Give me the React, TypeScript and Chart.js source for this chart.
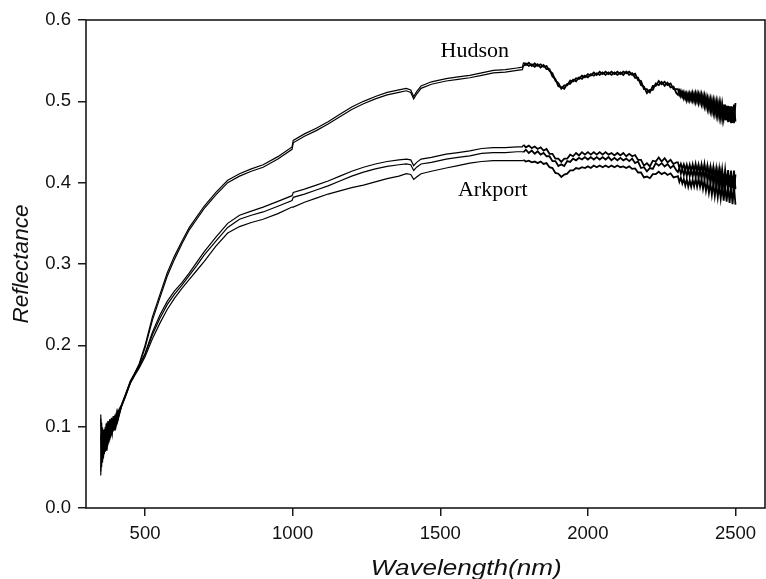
import React, { useEffect, useRef } from 'react';
import { Chart, registerables } from 'chart.js';

Chart.register(...registerables);

const wavelengths = [
  350, 353, 356, 359, 362, 365, 368, 371, 374, 377, 380, 383, 386, 389, 392, 395, 398, 401, 404, 407, 410,
  420, 435, 450, 465, 480, 500, 525, 550, 575, 600, 625, 650, 675, 700, 740, 780, 820, 860, 900, 950, 998, 1002,
  1040, 1080, 1120, 1160, 1200, 1240, 1280, 1320, 1360, 1385, 1400, 1410, 1420, 1435, 1470, 1520, 1560, 1600,
  1640, 1680, 1720, 1760, 1778,
  1782, 1790, 1800, 1810, 1820, 1830, 1840, 1850, 1860, 1870, 1880, 1890, 1900, 1910, 1920, 1930, 1940, 1950,
  1960, 1970, 1980, 1990, 2000, 2010, 2020, 2030, 2040, 2050, 2060, 2070, 2080, 2090, 2100, 2110, 2120, 2130,
  2140, 2150, 2160, 2170, 2180, 2190, 2200, 2210, 2220, 2230, 2240, 2250, 2260, 2270, 2280, 2290, 2300,
  2305, 2310, 2315, 2320, 2325, 2330, 2335, 2340, 2345, 2350, 2355, 2360, 2365, 2370, 2375, 2380, 2385, 2390,
  2395, 2400, 2405, 2410, 2415, 2420, 2425, 2430, 2435, 2440, 2445, 2450, 2455, 2460, 2465, 2470, 2475, 2480,
  2485, 2490, 2495, 2500,
];

const hudson1 = [
  0.115, 0.06, 0.099, 0.07, 0.097, 0.075, 0.104, 0.08, 0.107, 0.085, 0.109, 0.09, 0.111, 0.095, 0.113, 0.1, 0.115, 0.104, 0.117, 0.11, 0.12,
  0.127, 0.141, 0.156, 0.166, 0.177, 0.2, 0.235, 0.262, 0.289, 0.31, 0.328, 0.345, 0.358, 0.371, 0.388, 0.403, 0.411, 0.417, 0.422, 0.432, 0.444, 0.452,
  0.46, 0.467, 0.475, 0.484, 0.493, 0.5, 0.506, 0.511, 0.514, 0.516, 0.514, 0.506, 0.512, 0.519, 0.524, 0.528, 0.53, 0.532,
  0.535, 0.538, 0.539, 0.541, 0.542,
  0.5475, 0.5445, 0.5475, 0.5435, 0.5465, 0.5435, 0.5455, 0.5425, 0.5435, 0.5375, 0.5345, 0.5255, 0.5225, 0.5155, 0.5195, 0.5195, 0.5255, 0.5245,
  0.5285, 0.5275, 0.5315, 0.5295, 0.5335, 0.5315, 0.5355, 0.5325, 0.5365, 0.5335, 0.5365, 0.5335, 0.5365, 0.5335, 0.5365, 0.5335, 0.5365, 0.5345,
  0.5365, 0.5325, 0.534, 0.526, 0.525, 0.515, 0.515, 0.511, 0.519, 0.519, 0.525, 0.521, 0.524, 0.52, 0.522, 0.515, 0.515,
  0.515, 0.508, 0.513, 0.506, 0.5115, 0.5035, 0.51, 0.502, 0.51, 0.502, 0.5105, 0.5005, 0.51, 0.5, 0.509, 0.499, 0.5085, 0.4965,
  0.507, 0.494, 0.504, 0.4905, 0.5025, 0.488, 0.501, 0.4855, 0.4995, 0.483, 0.498, 0.4805, 0.4965, 0.479, 0.496, 0.4765, 0.4945, 0.475,
  0.494, 0.4735, 0.496, 0.475,
];

const hudson2 = [
  0.045, 0.105, 0.058, 0.096, 0.067, 0.1, 0.073, 0.105, 0.078, 0.107, 0.084, 0.109, 0.09, 0.111, 0.095, 0.113, 0.1, 0.115, 0.106, 0.118, 0.112,
  0.125, 0.14, 0.154, 0.165, 0.176, 0.197, 0.231, 0.258, 0.285, 0.306, 0.325, 0.342, 0.355, 0.368, 0.385, 0.4, 0.408, 0.414, 0.419, 0.429, 0.441, 0.449,
  0.457, 0.464, 0.472, 0.481, 0.49, 0.497, 0.503, 0.508, 0.511, 0.513, 0.511, 0.503, 0.509, 0.516, 0.521, 0.525, 0.527, 0.529,
  0.532, 0.535, 0.536, 0.538, 0.539,
  0.5435, 0.5465, 0.5435, 0.5455, 0.5425, 0.5455, 0.5415, 0.5445, 0.5395, 0.5395, 0.5305, 0.5275, 0.5185, 0.5175, 0.5155, 0.5215, 0.5215, 0.5265,
  0.5245, 0.5295, 0.5275, 0.5315, 0.5295, 0.5335, 0.5315, 0.5345, 0.5325, 0.5355, 0.5325, 0.5355, 0.5325, 0.5355, 0.5325, 0.5355, 0.5325, 0.5365,
  0.5325, 0.5345, 0.529, 0.529, 0.52, 0.518, 0.51, 0.514, 0.514, 0.522, 0.52, 0.524, 0.519, 0.523, 0.517, 0.518, 0.51,
  0.508, 0.513, 0.506, 0.511, 0.5035, 0.5095, 0.501, 0.509, 0.501, 0.509, 0.5005, 0.5085, 0.499, 0.509, 0.498, 0.508, 0.4965, 0.5065,
  0.494, 0.505, 0.491, 0.5025, 0.4885, 0.501, 0.486, 0.4995, 0.4835, 0.498, 0.481, 0.4965, 0.4785, 0.496, 0.477, 0.4945, 0.4745, 0.494,
  0.473, 0.4935, 0.473, 0.498,
];

const arkport1 = [
  0.09, 0.05, 0.095, 0.062, 0.09, 0.07, 0.098, 0.075, 0.1, 0.081, 0.103, 0.087, 0.106, 0.092, 0.108, 0.097, 0.111, 0.101, 0.113, 0.107, 0.116,
  0.126, 0.14, 0.155, 0.165, 0.175, 0.19, 0.216, 0.237, 0.254, 0.267, 0.277, 0.289, 0.302, 0.315, 0.333, 0.35, 0.36, 0.365, 0.37, 0.377, 0.384, 0.388,
  0.392, 0.397, 0.402, 0.408, 0.414, 0.419, 0.423, 0.426, 0.428, 0.429, 0.428, 0.421, 0.425, 0.429, 0.431, 0.435, 0.437, 0.439,
  0.442, 0.443, 0.443, 0.444, 0.444,
  0.4465, 0.4435, 0.4455, 0.4425, 0.4445, 0.4415, 0.4435, 0.4395, 0.4415, 0.4355, 0.4355, 0.4295, 0.4295, 0.4255, 0.4295, 0.4295, 0.4345, 0.4325,
  0.4365, 0.4335, 0.4375, 0.4345, 0.4375, 0.4345, 0.4375, 0.4345, 0.4375, 0.4345, 0.4375, 0.4345, 0.4365, 0.4335, 0.4365, 0.4335, 0.4365, 0.4325,
  0.4355, 0.4325, 0.434, 0.428, 0.428, 0.421, 0.424, 0.42, 0.427, 0.426, 0.431, 0.426, 0.43, 0.425, 0.428, 0.423, 0.425,
  0.425, 0.418, 0.423, 0.417, 0.4225, 0.4155, 0.422, 0.414, 0.422, 0.414, 0.4225, 0.4135, 0.423, 0.413, 0.422, 0.412, 0.4225, 0.4115,
  0.423, 0.41, 0.421, 0.4075, 0.4195, 0.406, 0.419, 0.4035, 0.4175, 0.402, 0.417, 0.4005, 0.4165, 0.399, 0.416, 0.3975, 0.4155, 0.395,
  0.415, 0.3935, 0.415, 0.392,
];

const arkport2 = [
  0.04, 0.1, 0.056, 0.09, 0.066, 0.095, 0.071, 0.1, 0.077, 0.103, 0.083, 0.106, 0.089, 0.108, 0.094, 0.11, 0.099, 0.112, 0.104, 0.115, 0.11,
  0.125, 0.139, 0.154, 0.164, 0.174, 0.189, 0.213, 0.233, 0.25, 0.263, 0.274, 0.286, 0.298, 0.311, 0.328, 0.345, 0.355, 0.36, 0.364, 0.371, 0.378, 0.382,
  0.386, 0.391, 0.396, 0.402, 0.408, 0.413, 0.417, 0.42, 0.422, 0.423, 0.422, 0.415, 0.419, 0.423, 0.425, 0.429, 0.431, 0.433,
  0.436, 0.437, 0.437, 0.438, 0.438,
  0.4375, 0.4405, 0.4365, 0.4395, 0.4355, 0.4385, 0.4345, 0.4365, 0.4325, 0.4325, 0.4265, 0.4265, 0.4205, 0.4225, 0.4205, 0.4265, 0.4255, 0.4295,
  0.4275, 0.4305, 0.4285, 0.4315, 0.4285, 0.4315, 0.4285, 0.4315, 0.4285, 0.4315, 0.4285, 0.4315, 0.4275, 0.4305, 0.4275, 0.4305, 0.4275, 0.4295,
  0.4265, 0.4295, 0.424, 0.426, 0.418, 0.419, 0.414, 0.418, 0.417, 0.424, 0.421, 0.424, 0.42, 0.423, 0.418, 0.421, 0.415,
  0.413, 0.418, 0.411, 0.417, 0.4095, 0.4165, 0.408, 0.416, 0.408, 0.416, 0.4075, 0.4165, 0.407, 0.417, 0.406, 0.416, 0.4055, 0.4165,
  0.405, 0.416, 0.403, 0.4145, 0.4005, 0.414, 0.399, 0.4125, 0.3965, 0.412, 0.395, 0.4115, 0.3935, 0.411, 0.392, 0.4105, 0.3905, 0.409,
  0.389, 0.4085, 0.387, 0.41,
];

const arkport3 = [
  0.11, 0.055, 0.085, 0.061, 0.08, 0.069, 0.09, 0.074, 0.095, 0.08, 0.098, 0.086, 0.1, 0.091, 0.104, 0.096, 0.107, 0.1, 0.11, 0.106, 0.113,
  0.124, 0.138, 0.153, 0.163, 0.172, 0.186, 0.208, 0.227, 0.244, 0.258, 0.27, 0.281, 0.292, 0.303, 0.322, 0.338, 0.346, 0.351, 0.355, 0.362, 0.37, 0.37,
  0.376, 0.381, 0.386, 0.39, 0.394, 0.397, 0.401, 0.405, 0.408, 0.411, 0.41, 0.404, 0.407, 0.411, 0.414, 0.418, 0.421, 0.424,
  0.426, 0.427, 0.427, 0.427, 0.427,
  0.428, 0.426, 0.427, 0.425, 0.426, 0.424, 0.426, 0.423, 0.424, 0.419, 0.418, 0.412, 0.411, 0.407, 0.41, 0.411, 0.415, 0.415,
  0.418, 0.417, 0.419, 0.418, 0.42, 0.418, 0.421, 0.419, 0.421, 0.419, 0.421, 0.419, 0.421, 0.419, 0.421, 0.419, 0.42, 0.418,
  0.42, 0.417, 0.4175, 0.4125, 0.4125, 0.4065, 0.4075, 0.4055, 0.4105, 0.4105, 0.4135, 0.4105, 0.4125, 0.4095, 0.4115, 0.4065, 0.4075,
  0.408, 0.401, 0.406, 0.399, 0.4045, 0.3965, 0.404, 0.395, 0.403, 0.395, 0.4035, 0.3955, 0.405, 0.395, 0.405, 0.395, 0.4045, 0.3925,
  0.403, 0.39, 0.401, 0.3875, 0.3995, 0.385, 0.399, 0.3835, 0.3975, 0.382, 0.397, 0.3805, 0.3965, 0.378, 0.396, 0.3765, 0.3955, 0.375,
  0.395, 0.3735, 0.395, 0.373,
];

const seriesNames = ['Hudson 1', 'Hudson 2', 'Arkport 1', 'Arkport 2', 'Arkport 3'];
const xTicks = [500, 1000, 1500, 2000, 2500];
const yTicks = [0, 0.1, 0.2, 0.3, 0.4, 0.5, 0.6];
const xTitle = 'Wavelength(nm)';
const yTitle = 'Reflectance';
const curveLabels = [
  { text: 'Hudson', x: 1617, y: 0.555 },
  { text: 'Arkport', x: 1678, y: 0.383 },
];
const noisyFrom = 1780;

const sansFamily = '"Liberation Sans", Arial, Helvetica, sans-serif';
const serifFamily = '"Liberation Serif", "Times New Roman", serif';

const framePlugin = {
  id: 'frame',
  afterDraw(chart: any) {
    const { ctx, chartArea } = chart;
    ctx.save();
    ctx.strokeStyle = '#1a1a1a';
    ctx.lineWidth = 1.6;
    ctx.strokeRect(chartArea.left, chartArea.top, chartArea.right - chartArea.left, chartArea.bottom - chartArea.top);
    ctx.restore();
  },
};

const textPlugin = {
  id: 'curveLabels',
  afterDatasetsDraw(chart: any) {
    const { ctx, scales, chartArea } = chart;
    ctx.save();
    ctx.fillStyle = '#000';
    ctx.font = `22px ${serifFamily}`;
    ctx.textAlign = 'center';
    ctx.textBaseline = 'alphabetic';
    curveLabels.forEach((l) => {
      ctx.fillText(l.text, scales.x.getPixelForValue(l.x), scales.y.getPixelForValue(l.y));
    });
    // x-axis title (slightly wide, as in the source figure)
    ctx.fillStyle = '#111';
    ctx.font = `italic 22.5px ${sansFamily}`;
    const cx = chartArea.left + (chartArea.right - chartArea.left) * 0.56;
    ctx.translate(cx, chartArea.bottom + 67);
    ctx.scale(1.16, 1);
    ctx.fillText(xTitle, 0, 0);
    ctx.restore();
  },
};

export default function App() {
  const ref = useRef<HTMLCanvasElement>(null);
  useEffect(() => {
    document.body.style.margin = '0';
    const series = [hudson1, hudson2, arkport1, arkport2, arkport3];
    const chart = new Chart(ref.current as HTMLCanvasElement, {
      type: 'line',
      data: {
        datasets: series.map((s, i) => ({
          label: seriesNames[i],
          data: wavelengths.map((w, j) => ({ x: w, y: s[j] })),
          borderColor: '#000',
          borderWidth: 1.2,
          pointRadius: 0,
          fill: false,
          tension: 0,
          segment: {
            borderWidth: (c: any) => (c.p0.parsed.x >= noisyFrom ? 1.8 : undefined),
          },
        })),
      },
      options: {
        animation: false,
        responsive: false,
        devicePixelRatio: 1,
        layout: { padding: { top: 20, right: 1, left: 0, bottom: 0 } },
        plugins: { legend: { display: false }, tooltip: { enabled: false } },
        scales: {
          x: {
            type: 'linear',
            min: 300,
            max: 2600,
            afterBuildTicks: (s: any) => {
              s.ticks = xTicks.map((v) => ({ value: v }));
            },
            afterFit: (s: any) => {
              s.height = 71;
            },
            grid: { drawOnChartArea: false, drawTicks: true, tickLength: 8, color: '#1a1a1a', lineWidth: 1.5 },
            border: { display: false },
            ticks: {
              autoSkip: false,
              maxRotation: 0,
              padding: 7,
              color: '#111',
              font: { family: sansFamily, size: 18.5 },
              callback: (v: any) => String(v),
            },
            title: { display: false },
          },
          y: {
            type: 'linear',
            min: 0,
            max: 0.6,
            afterBuildTicks: (s: any) => {
              s.ticks = yTicks.map((v) => ({ value: v }));
            },
            afterFit: (s: any) => {
              s.width = 86;
            },
            grid: { drawOnChartArea: false, drawTicks: true, tickLength: 8, color: '#1a1a1a', lineWidth: 1.5 },
            border: { display: false },
            ticks: {
              autoSkip: false,
              padding: 7,
              color: '#111',
              font: { family: sansFamily, size: 18.5 },
              callback: (v: any) => Number(v).toFixed(1),
            },
            title: {
              display: true,
              text: yTitle,
              color: '#111',
              font: { family: sansFamily, size: 22.5, style: 'italic' },
              padding: { top: 8, bottom: 0 },
            },
          },
        },
      },
      plugins: [framePlugin, textPlugin],
    });
    return () => chart.destroy();
  }, []);
  return <canvas ref={ref} width={766} height={579} style={{ display: 'block' }} />;
}
